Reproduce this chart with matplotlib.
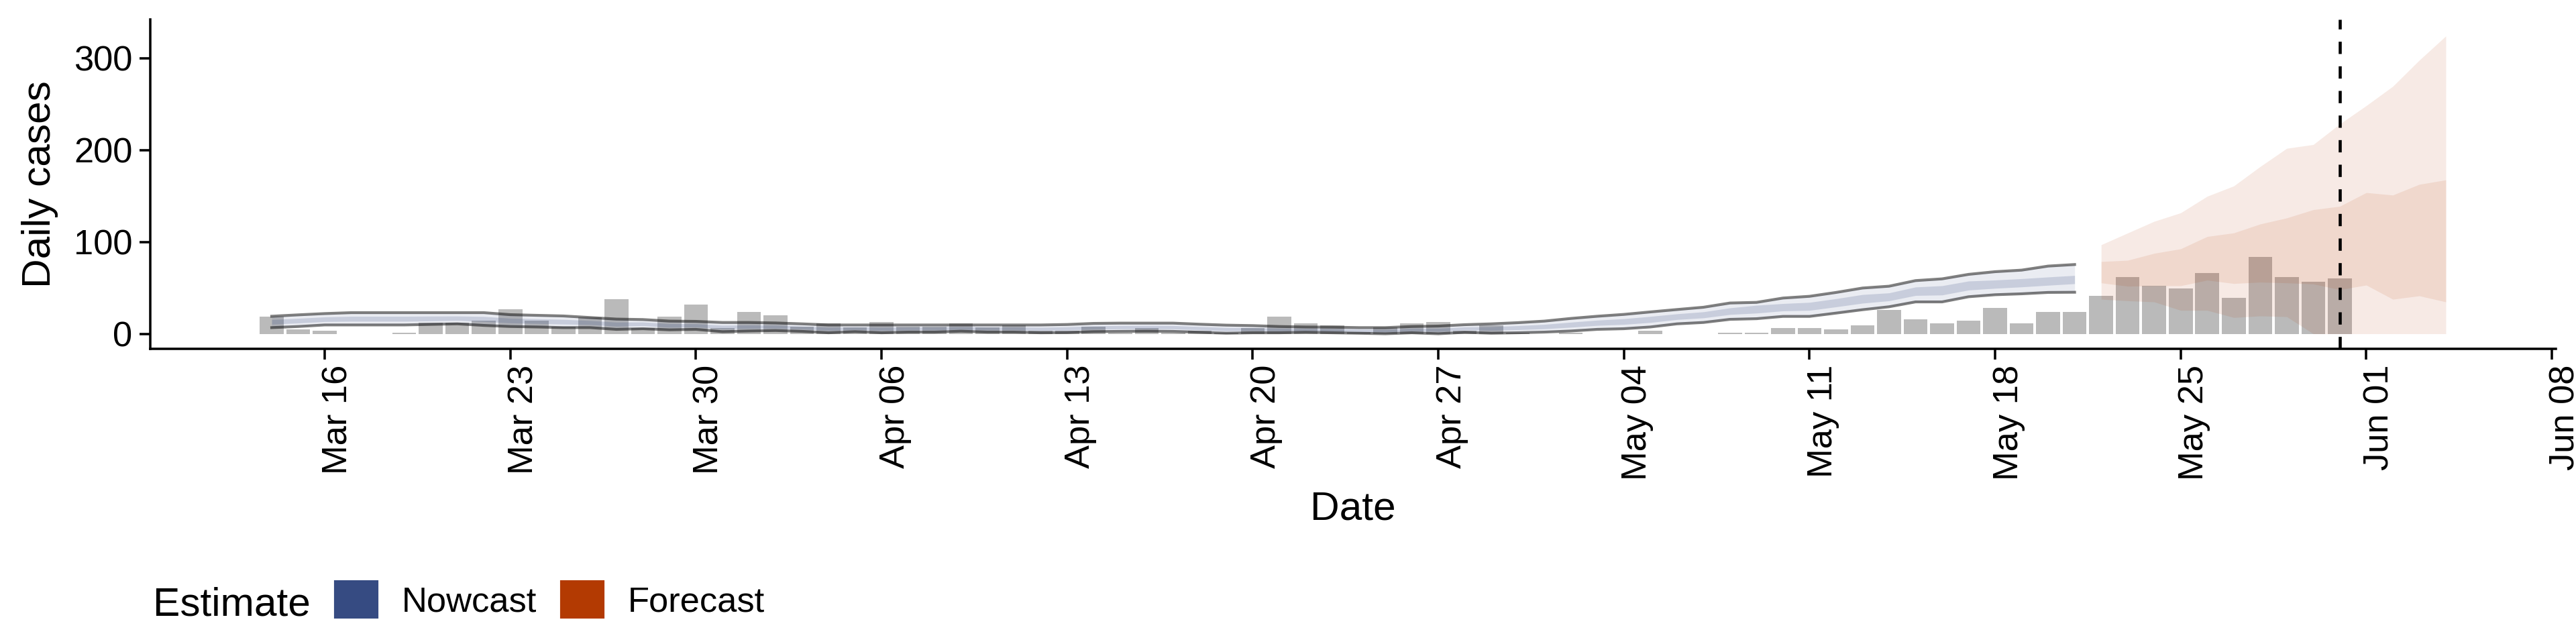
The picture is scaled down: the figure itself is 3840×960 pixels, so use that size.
import matplotlib
matplotlib.use('Agg')
import matplotlib.pyplot as plt
import matplotlib.dates as mdates
import matplotlib.transforms as mtransforms
from matplotlib.patches import Patch
import pandas as pd

plt.rcParams['font.family'] = ['Liberation Sans', 'DejaVu Sans']

# reported daily cases
case_dates = pd.date_range('2020-03-14', '2020-05-31', freq='D')
cases = [19, 5, 3, 0, 0, 1, 12, 12, 14, 27, 14, 8, 18, 38,
         6, 19, 32, 6, 24, 20, 8, 11, 7, 13, 8, 8, 11, 7,
         9, 3, 3, 8, 1, 6, 1, 3, 1, 6, 19, 11, 9, 2,
         7, 11, 13, 3, 9, 1, 0, 1, 0, 0, 3, 0, 0, 1,
         1, 6, 6, 5, 9, 26, 16, 11, 14, 28, 11, 24, 24,
         41, 62, 52, 49, 66, 39, 84, 62, 57, 60]

# nowcast intervals
nowcast_dates = pd.date_range('2020-03-14', '2020-05-21', freq='D')
nowcast_upper = [19.1, 20.6, 22.0, 23.0, 23.0, 23.0, 23.0, 23.0, 23.0, 20.8, 20.1, 19.4, 17.7, 16.0,
                 15.5, 13.8, 13.5, 12.3, 12.3, 11.8, 10.8, 9.6, 9.6, 9.6, 9.6, 9.6, 9.6, 9.6,
                 9.6, 9.6, 10.1, 11.3, 11.6, 11.6, 11.6, 10.4, 9.4, 8.9, 7.9, 7.4, 7.2, 6.7,
                 6.7, 7.9, 8.4, 9.9, 10.8, 12.1, 13.8, 16.7, 19.1, 21.1, 23.8, 26.4, 28.9, 33.5,
                 34.2, 38.9, 40.8, 45.0, 49.8, 51.8, 57.9, 59.8, 64.7, 67.6, 69.3, 73.7, 75.4]
nowcast_lower = [6.7, 7.9, 9.6, 9.6, 9.6, 9.6, 10.2, 10.8, 9.1, 7.9, 7.4, 6.7, 6.7, 4.8,
                 5.5, 4.3, 4.8, 2.3, 3.0, 3.5, 2.6, 1.1, 2.3, 1.1, 1.8, 1.8, 2.8, 1.8,
                 1.8, 1.1, 1.3, 2.3, 2.6, 2.8, 2.6, 1.6, 0.6, 1.1, 1.1, 1.6, 1.1, 0.6,
                 0.0, 1.1, 0.0, 1.6, 0.6, 1.1, 1.8, 3.0, 4.8, 5.5, 7.4, 10.8, 12.3, 15.7,
                 16.4, 18.9, 18.9, 22.5, 26.2, 29.4, 34.7, 34.7, 40.3, 42.5, 43.5, 45.0, 45.2]
nowcast_inner_upper = [15.4, 16.8, 18.3, 19.0, 19.0, 19.0, 19.2, 19.3, 18.8, 16.9, 16.3, 15.6, 14.4, 12.6,
                       12.8, 11.0, 10.9, 9.3, 9.5, 9.3, 8.3, 7.0, 7.4, 7.0, 7.3, 7.3, 7.6, 7.3,
                       7.3, 7.0, 7.5, 8.6, 8.9, 9.0, 8.9, 7.8, 6.8, 6.6, 5.9, 5.7, 5.4, 4.9,
                       4.7, 5.9, 5.9, 7.4, 7.7, 8.8, 10.2, 12.6, 14.8, 16.4, 18.9, 21.7, 23.9, 28.2,
                       31.0, 32.9, 34.2, 38.2, 42.7, 44.5, 50.9, 52.3, 57.4, 58.5, 60.0, 61.8, 63.5]
nowcast_inner_lower = [10.4, 11.7, 13.3, 13.6, 13.6, 13.6, 14.0, 14.5, 13.3, 11.8, 11.2, 10.5, 10.0, 8.2,
                       8.7, 7.1, 7.4, 5.3, 5.8, 6.0, 5.1, 3.7, 4.5, 3.7, 4.1, 4.1, 4.8, 4.1,
                       4.1, 3.7, 3.9, 5.0, 5.3, 5.4, 5.3, 4.2, 3.2, 3.4, 3.1, 3.3, 2.9, 2.4,
                       2.0, 3.1, 2.5, 4.1, 3.7, 4.4, 5.4, 7.1, 9.1, 10.2, 12.3, 15.5, 17.3, 21.0,
                       22.5, 24.9, 25.5, 29.3, 33.3, 35.9, 41.7, 42.2, 47.6, 49.5, 51.0, 52.8, 54.5]

# forecast intervals
forecast_dates = pd.date_range('2020-05-22', '2020-06-04', freq='D')
forecast_upper = [96.9, 109.7, 122.4, 131.7, 149.7, 160.9, 182.1, 201.9, 206.0, 228.4, 248.4, 269.4, 297.9, 324.2]
forecast_lower = [37.6, 35.9, 34.7, 25.5, 25.5, 17.7, 19.4, 18.6, 0.0, 0.0, 0.0, 0.0, 0.0, 0.0]
forecast_inner_upper = [78.6, 80.0, 87.6, 92.5, 105.9, 109.8, 119.5, 126.1, 135.1, 138.8, 153.7, 151.0, 162.7, 167.5]
forecast_inner_lower = [55.4, 51.8, 52.3, 52.3, 58.4, 54.7, 56.2, 55.4, 54.2, 48.1, 53.0, 37.6, 41.3, 34.7]

estimate_date = pd.Timestamp('2020-05-31')
tick_dates = pd.date_range('2020-03-16', '2020-06-08', freq='7D')

nowcast_col = '#364B82'
forecast_col = '#B33A02'

W, H = 3840, 960
fig = plt.figure(figsize=(12.8, 3.2), dpi=300)
ax = fig.add_axes([223.6 / W, 1 - 520 / H, (3810 - 223.6) / W, (520 - 28.6) / H])

ax.bar(case_dates, cases, width=0.9, color='#BABABA', linewidth=0, zorder=1)

ax.fill_between(nowcast_dates, nowcast_lower, nowcast_upper, color=nowcast_col, alpha=0.1, lw=0, zorder=2)
ax.fill_between(nowcast_dates, nowcast_inner_lower, nowcast_inner_upper, color=nowcast_col, alpha=0.19, lw=0, zorder=2)
ax.plot(nowcast_dates, nowcast_upper, color='black', alpha=0.5, lw=1.0, zorder=3)
ax.plot(nowcast_dates, nowcast_lower, color='black', alpha=0.5, lw=1.0, zorder=3)

ax.fill_between(forecast_dates, forecast_lower, forecast_upper, color=forecast_col, alpha=0.1, lw=0, zorder=2)
ax.fill_between(forecast_dates, forecast_inner_lower, forecast_inner_upper, color=forecast_col, alpha=0.1, lw=0, zorder=2)

ax.axvline(estimate_date, color='black', lw=1.1, linestyle=(0, (4, 4)), zorder=4)

# axes limits
x0 = mdates.date2num(pd.Timestamp('2020-03-16')) - 6.59
x1 = mdates.date2num(pd.Timestamp('2020-06-08')) + 0.15
ax.set_xlim(x0, x1)
ax.set_ylim(-16.4, 342.5)
ax.set_yticks([0, 100, 200, 300])
ax.set_xticks(tick_dates)
ax.xaxis.set_major_formatter(mdates.DateFormatter('%b %d'))

for s in ['top', 'right']:
    ax.spines[s].set_visible(False)
for s in ['left', 'bottom']:
    ax.spines[s].set_linewidth(0.85)
ax.tick_params(length=3.8, width=0.85, labelsize=12.6, colors='black')
ax.tick_params(axis='x', pad=1.9)
ax.tick_params(axis='y', pad=2.5)

offset = mtransforms.ScaledTranslation(20 / 300, 0, fig.dpi_scale_trans)
for lab in ax.get_xticklabels():
    lab.set_rotation(90)
    lab.set_ha('center')
    lab.set_va('top')
    lab.set_transform(lab.get_transform() + offset)

ax.set_ylabel('Daily cases', fontsize=14.5)
ax.yaxis.set_label_coords(-0.038, 0.5)
ax.set_xlabel('Date', fontsize=14.5)
ax.xaxis.set_label_coords(0.5, -0.43)

# legend
fig.text(228 / W, 1 - 917 / H, 'Estimate', fontsize=14.5, va='baseline', ha='left')
handles = [Patch(color=nowcast_col, label='Nowcast'), Patch(color=forecast_col, label='Forecast')]
fig.legend(handles=handles, loc='center left', bbox_to_anchor=(500 / W, 1 - 895 / H),
           ncol=2, frameon=False, fontsize=12.6, handlelength=1.18, handleheight=1.18,
           handletextpad=0.7, columnspacing=0.7, borderpad=0, borderaxespad=0)

fig.savefig('out.png', dpi=300)
